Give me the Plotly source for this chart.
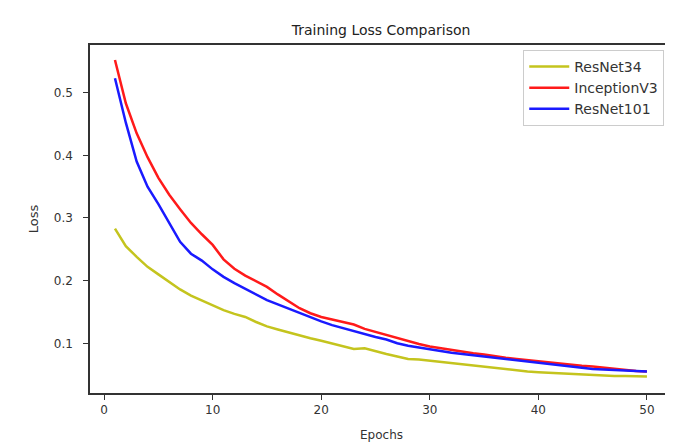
import plotly.graph_objects as go

epochs = list(range(1, 51))

resnet34 = [0.283, 0.255, 0.238, 0.222, 0.210, 0.198, 0.186, 0.176, 0.168, 0.160,
            0.153, 0.147, 0.142, 0.134, 0.127, 0.122, 0.117, 0.113, 0.108, 0.104,
            0.100, 0.095, 0.091, 0.092, 0.087, 0.083, 0.079, 0.075, 0.074, 0.072,
            0.070, 0.068, 0.066, 0.064, 0.062, 0.060, 0.058, 0.056, 0.055, 0.054,
            0.053, 0.052, 0.051, 0.050, 0.049, 0.049, 0.048, 0.048, 0.047, 0.047]

inceptionv3 = [0.552, 0.483, 0.435, 0.397, 0.364, 0.337, 0.314, 0.292, 0.274, 0.257,
               0.234, 0.219, 0.208, 0.199, 0.190, 0.178, 0.167, 0.156, 0.148, 0.142,
               0.138, 0.134, 0.130, 0.123, 0.118, 0.113, 0.108, 0.103, 0.099, 0.095,
               0.092, 0.089, 0.086, 0.084, 0.082, 0.079, 0.077, 0.075, 0.073, 0.071,
               0.069, 0.068, 0.066, 0.064, 0.063, 0.061, 0.059, 0.057, 0.056, 0.055]

resnet101 = [0.523, 0.452, 0.390, 0.350, 0.322, 0.293, 0.262, 0.243, 0.232, 0.218,
             0.206, 0.196, 0.187, 0.178, 0.169, 0.162, 0.155, 0.148, 0.141, 0.135,
             0.129, 0.124, 0.119, 0.114, 0.110, 0.106, 0.100, 0.096, 0.093, 0.090,
             0.087, 0.085, 0.083, 0.081, 0.078, 0.076, 0.075, 0.072, 0.070, 0.068,
             0.066, 0.065, 0.062, 0.060, 0.059, 0.058, 0.057, 0.056, 0.056, 0.055]

x_ticks = [0, 10, 20, 30, 40, 50]
y_ticks = [0.1, 0.2, 0.3, 0.4, 0.5]
y_tick_text = ["0.1", "0.2", "0.3", "0.4", "0.5"]

series = [
    ("ResNet34", resnet34, "#c4c41e"),
    ("InceptionV3", inceptionv3, "#ff1a1a"),
    ("ResNet101", resnet101, "#1a1aff"),
]

fig = go.Figure()
for name, vals, color in series:
    fig.add_trace(go.Scatter(x=epochs, y=vals, mode="lines", name=name,
                             line=dict(color=color, width=2.5)))

font_family = "DejaVu Sans, sans-serif"
fig.update_layout(
    width=665, height=440,
    margin=dict(l=82, r=0, t=37, b=55),
    paper_bgcolor="white", plot_bgcolor="white",
    font=dict(family=font_family, size=12, color="#333333"),
    title=dict(text="Training Loss Comparison", x=0.561, xanchor="center",
               y=0.95, yanchor="middle", font=dict(size=14, color="#222222")),
    showlegend=True,
    legend=dict(x=0.985, y=0.986, xanchor="right", yanchor="top",
                bgcolor="white", bordercolor="#cccccc", borderwidth=1,
                itemwidth=40,
                font=dict(size=14, color="#333333"), tracegroupgap=0),
)
fig.update_xaxes(range=[-1.3, 52.4], tickvals=x_ticks, ticks="outside", ticklen=5,
                 tickcolor="#333333", showline=True, linecolor="#333333", linewidth=1.5,
                 mirror=True, showgrid=False, zeroline=False,
                 title=dict(text="Epochs", standoff=14, font=dict(size=12)))
fig.update_yaxes(range=[0.0207, 0.576], tickvals=y_ticks, ticktext=y_tick_text,
                 ticks="outside", ticklen=5, ticklabelstandoff=8,
                 tickcolor="#333333", showline=True, linecolor="#333333", linewidth=1.5,
                 mirror=False, showgrid=False, zeroline=False,
                 title=dict(text="Loss", standoff=12, font=dict(size=13)))

fig.write_html("out.html")
